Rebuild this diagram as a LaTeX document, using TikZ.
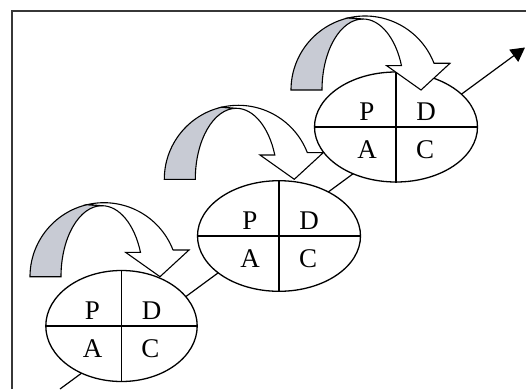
\documentclass[tikz,border=0pt]{standalone}
\usepackage{fontspec}
\setmainfont{Liberation Serif}
\usetikzlibrary{shapes.geometric,arrows.meta}
\definecolor{graybk}{RGB}{200,203,212}
\definecolor{framec}{RGB}{55,55,55}
\begin{document}
\begin{tikzpicture}[x=1pt,y=1pt,
  pdca/.style={ellipse, draw, fill=white, line width=1.3pt, inner sep=0pt},
  divider/.style={line width=1.3pt},
  lt/.style={font=\fontsize{27}{32}\selectfont, inner sep=0pt, anchor=base},
  band/.style={draw=black, line width=1.1pt, line join=miter},
  curvearrow/.pic={
    \filldraw[band, fill=graybk] (0,0) arc[start angle=180, end angle=103, radius=74]
      -- (72,71) arc[start angle=90, end angle=180, x radius=41, y radius=71] -- cycle;
    \filldraw[band, fill=white] (57.35,72.1) arc[start angle=103, end angle=21.2, radius=74]
      -- (159,26.7) -- (130,0) -- (95.7,24.3) -- (110.5,24.3)
      arc[start angle=20, end angle=90, x radius=41, y radius=71] -- cycle;
  }]
\useasboundingbox (0,0) rectangle (526,389);
% frame
\draw[framec, line width=2pt] (11.5,0) -- (11.5,377.5) -- (526,377.5);
% main line
\coordinate (start) at (60,0);
\coordinate (end) at (525,341.5);
\draw[line width=1.2pt, -{Triangle[length=14pt,width=15pt]}] (start) -- (end);
% ellipses
\node[pdca, minimum width=151.4pt, minimum height=111pt] (e1) at (121.5,63) {};
\node[pdca, minimum width=163pt, minimum height=110.6pt] (e2) at (279,153) {};
\node[pdca, minimum width=163pt, minimum height=110pt] (e3) at (396,262) {};
\foreach \e in {e1,e2,e3}{
  \draw[divider] (\e.north) -- (\e.south);
  \draw[divider] (\e.west) -- (\e.east);
  \node[lt] (\e-p) at ([xshift=-29pt, yshift=7pt]\e.center) {P};
  \node[lt] (\e-d) at ([xshift=30pt, yshift=7pt]\e.center) {D};
  \node[lt] (\e-a) at ([xshift=-29pt, yshift=-31pt]\e.center) {A};
  \node[lt] (\e-c) at ([xshift=29pt, yshift=-31pt]\e.center) {C};
}
% curved arrows
\pic at (30,112.3) {curvearrow};
\pic at (164.3,209.7) {curvearrow};
\pic at (291,299) {curvearrow};
\end{tikzpicture}
\end{document}
